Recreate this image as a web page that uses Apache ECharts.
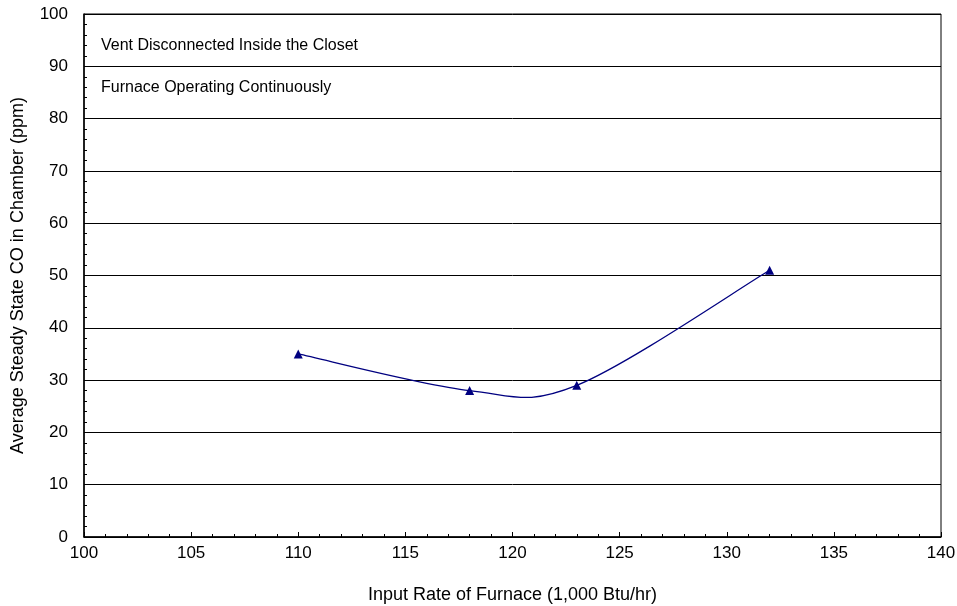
<!DOCTYPE html>
<html><head><meta charset="utf-8">
<script src="https://cdn.jsdelivr.net/npm/echarts@6/dist/echarts.min.js"></script>
<style>html,body{margin:0;padding:0;background:#fff}#c{width:957px;height:606px}</style>
</head><body><div id="c"></div>
<script>
const inputRate = [110, 118, 123, 132];
const avgCO = [35, 28, 29, 51];
const xTicks = [100, 105, 110, 115, 120, 125, 130, 135, 140];
const yTicks = [0, 10, 20, 30, 40, 50, 60, 70, 80, 90, 100];
const notes = ['Vent Disconnected Inside the Closet', 'Furnace Operating Continuously'];

const chart = echarts.init(document.getElementById('c'), null, {renderer: 'canvas'});
const font = 'Liberation Sans, Arial, sans-serif';
const pts = inputRate.map((x, i) => [x, avgCO[i]]);

// Smoothed curve (Catmull-Rom style, like a spreadsheet "smoothed line"), drawn through the axes' scales
function renderSegment(params, api) {
  const i = params.dataIndex;
  const n = pts.length;
  if (i >= n - 1) return null;
  const P = j => api.coord(pts[Math.max(0, Math.min(n - 1, j))]);
  const p0 = P(i - 1), p1 = P(i), p2 = P(i + 1), p3 = P(i + 2);
  const c1 = [p1[0] + (p2[0] - p0[0]) / 6, p1[1] + (p2[1] - p0[1]) / 6];
  const c2 = [p2[0] - (p3[0] - p1[0]) / 6, p2[1] - (p3[1] - p1[1]) / 6];
  return {
    type: 'bezierCurve',
    shape: {x1: p1[0], y1: p1[1], cpx1: c1[0], cpy1: c1[1], cpx2: c2[0], cpy2: c2[1], x2: p2[0], y2: p2[1]},
    style: {stroke: '#000080', lineWidth: 1.3, fill: null}
  };
}

chart.setOption({
  animation: false,
  grid: {left: 84, right: 16, top: 14, bottom: 69, show: true, borderColor: '#000', borderWidth: 1,
         containLabel: false, outerBoundsMode: 'none'},
  xAxis: {
    type: 'value', min: xTicks[0], max: xTicks[xTicks.length - 1], interval: 5,
    name: 'Input Rate of Furnace (1,000 Btu/hr)', nameLocation: 'middle', nameGap: 49,
    nameTextStyle: {fontFamily: font, fontSize: 18, color: '#000'},
    axisLine: {lineStyle: {color: '#000', width: 1.5}},
    axisTick: {inside: true, length: 5, lineStyle: {color: '#000'}},
    minorTick: {show: true, splitNumber: 5, length: 3, lineStyle: {color: '#000'}},
    axisLabel: {fontFamily: font, fontSize: 17, color: '#000', margin: 8},
    splitLine: {show: false}
  },
  yAxis: {
    type: 'value', min: yTicks[0], max: yTicks[yTicks.length - 1], interval: 10,
    name: 'Average Steady State CO in Chamber (ppm)', nameLocation: 'middle', nameGap: 57,
    nameTextStyle: {fontFamily: font, fontSize: 18, color: '#000'},
    axisLine: {lineStyle: {color: '#000', width: 1.5}},
    axisTick: {inside: true, length: 5, lineStyle: {color: '#000'}},
    minorTick: {show: true, splitNumber: 5, length: 3, lineStyle: {color: '#000'}},
    axisLabel: {fontFamily: font, fontSize: 17, color: '#000', margin: 16},
    splitLine: {show: true, lineStyle: {color: '#000', width: 1}}
  },
  graphic: [
    {type: 'text', left: 101, top: 38, style: {text: notes[0], font: '16px ' + font, fill: '#000'}},
    {type: 'text', left: 101, top: 80, style: {text: notes[1], font: '16px ' + font, fill: '#000'}}
  ],
  series: [{
    type: 'custom',
    data: pts,
    renderItem: renderSegment,
    z: 2
  }, {
    type: 'scatter',
    data: pts,
    symbol: 'triangle', symbolSize: 9,
    itemStyle: {color: '#000080', opacity: 1},
    z: 3
  }]
});
</script></body></html>
